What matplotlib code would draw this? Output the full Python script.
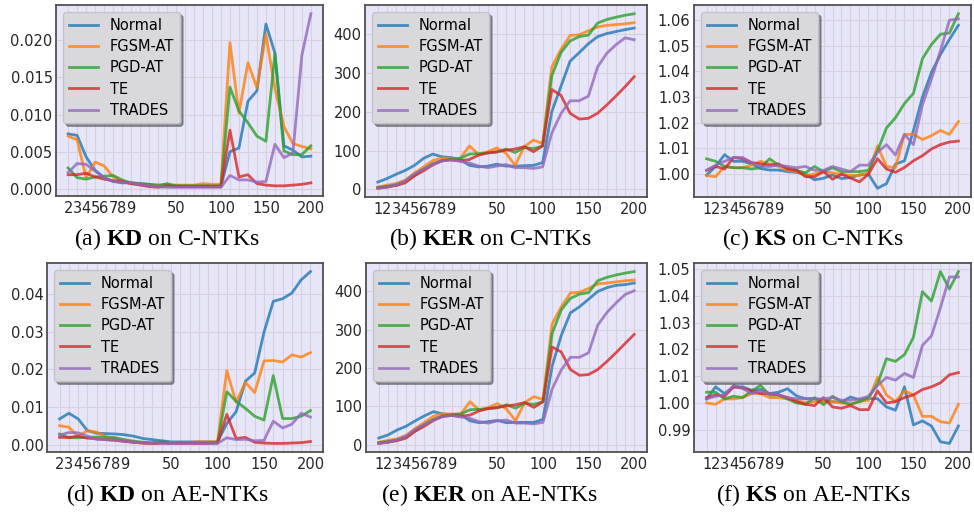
import numpy as np
import matplotlib
matplotlib.use('Agg')
import matplotlib.pyplot as plt
from matplotlib.ticker import MultipleLocator

plt.rcParams['font.family'] = ['DejaVu Sans']
plt.rcParams['mathtext.fontset'] = 'custom'
plt.rcParams['mathtext.rm'] = 'Liberation Serif'
plt.rcParams['mathtext.bf'] = 'Liberation Serif:bold'

# x 軸的 epoch（KD 從 2 開始）
epochs = [1, 2, 3, 4, 5, 6, 7, 8, 9, 10, 20, 30, 40, 50, 60, 70, 80, 90, 100,
          110, 120, 130, 140, 150, 160, 170, 180, 190, 200]
epochs_kd = [2, 3, 4, 5, 6, 7, 8, 9, 10, 20, 30, 40, 50, 60, 70, 80, 90, 100,
             110, 120, 130, 140, 150, 160, 170, 180, 190, 200]
names = ['Normal', 'FGSM-AT', 'PGD-AT', 'TE', 'TRADES']

# (a) KD on C-NTKs
kd_c_normal = [0.0074, 0.0072, 0.0043, 0.0025, 0.0015, 0.0010, 0.0008, 0.0008,
               0.0007, 0.0006, 0.0005, 0.0005, 0.0004, 0.0004, 0.0004, 0.0004, 0.0004, 0.0004,
               0.0050, 0.0055, 0.0118, 0.0132, 0.0222, 0.0183, 0.0058, 0.0052, 0.0043, 0.0044]
kd_c_fgsm = [0.0071, 0.0066, 0.0015, 0.0036, 0.0031, 0.0016, 0.0010, 0.0007,
             0.0006, 0.0005, 0.0005, 0.0005, 0.0005, 0.0005, 0.0005, 0.0007, 0.0006, 0.0006,
             0.0197, 0.0102, 0.0170, 0.0136, 0.0208, 0.0135, 0.0084, 0.0061, 0.0057, 0.0054]
kd_c_pgd = [0.0028, 0.0015, 0.0013, 0.0016, 0.0017, 0.0018, 0.0012, 0.0008,
            0.0007, 0.0006, 0.0004, 0.0007, 0.0004, 0.0004, 0.0004, 0.0004, 0.0004, 0.0004,
            0.0137, 0.0105, 0.0089, 0.0071, 0.0064, 0.0182, 0.0051, 0.0046, 0.0046, 0.0058]
kd_c_te = [0.0019, 0.0019, 0.0021, 0.0016, 0.0013, 0.0011, 0.0010, 0.0007,
           0.0005, 0.0003, 0.0002, 0.0004, 0.0003, 0.0003, 0.0003, 0.0003, 0.0003, 0.0003,
           0.0079, 0.0016, 0.0019, 0.0007, 0.0005, 0.0004, 0.0004, 0.0005, 0.0006, 0.0008]
kd_c_trades = [0.0022, 0.0034, 0.0033, 0.0024, 0.0015, 0.0010, 0.0009, 0.0008,
               0.0006, 0.0004, 0.0003, 0.0002, 0.0002, 0.0002, 0.0002, 0.0002, 0.0002, 0.0002,
               0.0018, 0.0012, 0.0012, 0.0009, 0.0010, 0.0060, 0.0042, 0.0048, 0.0180, 0.0236]

# (b) KER on C-NTKs
ker_c_normal = [19, 28, 39, 49, 62, 80, 91, 84, 82,
                77, 62, 58, 60, 65, 60, 60, 61, 62, 69,
                200, 265, 330, 352, 375, 393, 401, 406, 411, 415]
ker_c_fgsm = [6, 11, 15, 24, 42, 58, 74, 81, 80,
              80, 112, 90, 97, 107, 93, 62, 110, 127, 118,
              315, 360, 396, 398, 408, 418, 422, 424, 426, 429]
ker_c_pgd = [5, 8, 12, 20, 36, 52, 66, 74, 78,
             80, 91, 92, 94, 96, 104, 95, 108, 105, 112,
             292, 352, 382, 393, 397, 428, 437, 443, 448, 452]
ker_c_te = [3, 6, 10, 17, 35, 48, 63, 74, 76,
            74, 77, 88, 94, 97, 101, 104, 110, 97, 112,
            257, 242, 196, 181, 183, 196, 217, 240, 264, 290]
ker_c_trades = [3, 6, 12, 22, 40, 52, 64, 73, 76,
                72, 68, 60, 56, 60, 64, 56, 56, 54, 58,
                145, 195, 228, 228, 240, 315, 350, 372, 390, 385]

# (c) KS on C-NTKs
ks_c_normal = [0.9996, 1.003, 1.0076, 1.005, 1.005, 1.004, 1.0022, 1.0016, 1.0016,
               1.001, 1.0007, 1.0, 0.9978, 0.9984, 0.9997, 0.9983, 0.9987, 0.9997, 1.0,
               0.9945, 0.9963, 1.0039, 1.0052, 1.017, 1.030, 1.0396, 1.0466, 1.0525, 1.058]
ks_c_fgsm = [0.9995, 0.999, 1.003, 1.0025, 1.0025, 1.0035, 1.005, 1.004, 1.003,
             1.0015, 1.001, 0.9995, 1.0, 1.001, 1.0005, 1.0, 0.9995, 0.9995, 1.0005,
             1.011, 1.003, 1.0025, 1.0155, 1.0155, 1.0135, 1.015, 1.017, 1.0155, 1.0205]
ks_c_pgd = [1.006, 1.005, 1.003, 1.0025, 1.0025, 1.002, 1.0025, 1.006, 1.0035,
            1.0025, 1.0015, 1.0005, 1.003, 1.001, 1.0025, 1.001, 1.001, 1.001, 1.0015,
            1.009, 1.018, 1.022, 1.0275, 1.0315, 1.045, 1.0505, 1.0545, 1.055, 1.0625]
ks_c_te = [1.0015, 1.003, 1.002, 1.0065, 1.006, 1.0045, 1.004, 1.0035, 1.004,
           1.002, 1.0015, 0.999, 0.999, 1.001, 0.998, 1.0, 0.9985, 0.997, 1.0,
           1.006, 1.002, 1.0007, 1.0026, 1.0052, 1.0072, 1.0098, 1.0115, 1.0125, 1.0129]
ks_c_trades = [1.0015, 1.0035, 1.005, 1.0065, 1.0065, 1.0045, 1.003, 1.003, 1.0035,
               1.003, 1.0025, 1.003, 1.0015, 1.0015, 1.003, 1.002, 1.001, 1.0035, 1.0035,
               1.0085, 1.0115, 1.0075, 1.0155, 1.0115, 1.027, 1.037, 1.048, 1.060, 1.0605]

# (d) KD on AE-NTKs
kd_ae_normal = [0.0068, 0.0083, 0.0068, 0.0037, 0.0030, 0.0029, 0.0028, 0.0026,
                0.0022, 0.0016, 0.0013, 0.0010, 0.0007, 0.0007, 0.0007, 0.0007, 0.0007, 0.0007,
                0.0056, 0.0087, 0.0168, 0.0190, 0.0298, 0.0380, 0.0387, 0.0402, 0.0437, 0.0459]
kd_ae_fgsm = [0.0050, 0.0046, 0.0022, 0.0037, 0.0033, 0.0020, 0.0016, 0.0010,
              0.0006, 0.0004, 0.0003, 0.0005, 0.0005, 0.0005, 0.0005, 0.0008, 0.0007, 0.0007,
              0.0196, 0.0112, 0.0165, 0.0138, 0.0222, 0.0223, 0.0219, 0.0238, 0.0232, 0.0244]
kd_ae_pgd = [0.0028, 0.0018, 0.0018, 0.0019, 0.0020, 0.0020, 0.0018, 0.0013,
             0.0009, 0.0006, 0.0005, 0.0008, 0.0005, 0.0005, 0.0005, 0.0005, 0.0005, 0.0005,
             0.0140, 0.0115, 0.0096, 0.0075, 0.0065, 0.0183, 0.0069, 0.0069, 0.0075, 0.0090]
kd_ae_te = [0.0019, 0.0019, 0.0022, 0.0017, 0.0015, 0.0013, 0.0011, 0.0008,
            0.0006, 0.0004, 0.0003, 0.0004, 0.0003, 0.0003, 0.0003, 0.0003, 0.0003, 0.0004,
            0.0080, 0.0016, 0.0019, 0.0006, 0.0004, 0.0003, 0.0003, 0.0004, 0.0005, 0.0008]
kd_ae_trades = [0.0025, 0.0032, 0.0031, 0.0022, 0.0014, 0.0013, 0.0012, 0.0009,
                0.0006, 0.0004, 0.0003, 0.0003, 0.0003, 0.0003, 0.0003, 0.0003, 0.0003, 0.0003,
                0.0018, 0.0013, 0.0014, 0.0010, 0.0011, 0.0062, 0.0044, 0.0054, 0.0083, 0.0073]

# (e) KER on AE-NTKs
ker_ae_normal = [17, 25, 38, 48, 62, 75, 86, 80, 78,
                 78, 62, 57, 60, 63, 57, 58, 58, 58, 66,
                 205, 285, 344, 360, 380, 400, 410, 416, 418, 422]
ker_ae_fgsm = [6, 11, 15, 24, 42, 58, 74, 80, 80,
               80, 112, 90, 97, 107, 93, 62, 110, 125, 118,
               315, 360, 396, 398, 408, 420, 422, 425, 428, 430]
ker_ae_pgd = [5, 8, 12, 20, 36, 52, 66, 74, 78,
              80, 91, 92, 94, 96, 104, 95, 108, 105, 112,
              290, 352, 382, 393, 397, 428, 437, 443, 448, 452]
ker_ae_te = [3, 6, 10, 17, 35, 48, 63, 74, 76,
             74, 77, 88, 94, 97, 101, 104, 110, 97, 112,
             255, 242, 196, 181, 183, 196, 217, 240, 264, 288]
ker_ae_trades = [3, 6, 12, 22, 40, 52, 64, 73, 76,
                 72, 68, 60, 56, 62, 64, 56, 56, 54, 58,
                 145, 195, 228, 228, 240, 312, 345, 370, 392, 402]

# (f) KS on AE-NTKs
ks_ae_normal = [1.0015, 1.006, 1.0035, 1.006, 1.006, 1.0047, 1.005, 1.0035, 1.004,
                1.0053, 1.0026, 1.0016, 1.0016, 1.001, 1.0004, 1.0004, 1.0022, 1.0012, 1.0016,
                1.0016, 0.9985, 0.9973, 1.006, 0.9918, 0.9933, 0.9914, 0.9855, 0.9849, 0.9914]
ks_ae_fgsm = [1.0, 0.9995, 1.0015, 1.0015, 1.002, 1.0035, 1.0035, 1.002, 1.002,
              1.0015, 1.001, 1.0, 1.0005, 1.0005, 1.0005, 1.0, 0.9995, 1.0005, 1.001,
              1.0095, 1.003, 1.0005, 1.0045, 1.003, 0.995, 0.995, 0.993, 0.9925, 0.9995]
ks_ae_pgd = [1.004, 1.004, 1.0015, 1.0025, 1.002, 1.0045, 1.0065, 1.003, 1.003,
             1.0015, 1.0, 0.9995, 1.002, 0.9993, 1.0025, 1.0005, 0.9995, 1.0005, 1.002,
             1.007, 1.0165, 1.0155, 1.018, 1.0245, 1.0415, 1.038, 1.049, 1.0425, 1.049]
ks_ae_te = [1.002, 1.003, 1.0025, 1.006, 1.0055, 1.0045, 1.0035, 1.0035, 1.003,
            1.002, 1.0005, 0.9995, 0.999, 1.002, 0.9985, 0.998, 0.999, 0.9975, 0.9975,
            1.0045, 1.0, 1.0005, 1.002, 1.003, 1.005, 1.006, 1.0075, 1.0105, 1.0113]
ks_ae_trades = [1.0015, 1.0025, 1.003, 1.0065, 1.0055, 1.0035, 1.0045, 1.0035, 1.003,
                1.002, 1.0015, 1.0015, 1.0015, 1.0015, 1.002, 1.001, 1.001, 1.0015, 1.0025,
                1.0065, 1.0095, 1.0085, 1.011, 1.0095, 1.0215, 1.025, 1.0355, 1.047, 1.047]

W, H = 974, 516
fig = plt.figure(figsize=(W / 100, H / 100), dpi=100)


def add_panel(left, top, right, bottom, xs, series, ystep=None):
    ax = fig.add_axes([left / W, 1 - bottom / H, (right - left) / W, (bottom - top) / H])
    ax.set_facecolor('#E6E6F8')
    pos = np.arange(len(xs))
    for name, ys in zip(names, series):
        ax.plot(pos, ys, lw=2, alpha=0.8, label=name)
    ax.set_xticks(pos)
    ax.set_xticklabels([str(e) if e < 10 or e % 50 == 0 else '' for e in xs])
    if ystep:
        ax.yaxis.set_major_locator(MultipleLocator(ystep))
    ax.grid(True, color='#D6D1DD', lw=0.8)
    ax.set_axisbelow(True)
    ax.tick_params(length=0, labelsize=10.5, labelcolor='#262626')
    ax.tick_params(axis='y', pad=2.5)
    ax.tick_params(axis='x', pad=3.5)
    for s in ax.spines.values():
        s.set_color('#505050')
        s.set_linewidth(1.3)
    ax.legend(loc='upper left', fontsize=10.5, shadow=True, facecolor='#D9D9DD',
              edgecolor='#C4C4C8', framealpha=1, labelspacing=0.42)
    return ax


add_panel(56, 5, 323, 196, epochs_kd, [kd_c_normal, kd_c_fgsm, kd_c_pgd, kd_c_te, kd_c_trades])
add_panel(365, 5, 647, 197, epochs, [ker_c_normal, ker_c_fgsm, ker_c_pgd, ker_c_te, ker_c_trades])
add_panel(694, 5, 971, 197, epochs, [ks_c_normal, ks_c_fgsm, ks_c_pgd, ks_c_te, ks_c_trades], 0.01)
add_panel(47, 263, 323, 452, epochs_kd, [kd_ae_normal, kd_ae_fgsm, kd_ae_pgd, kd_ae_te, kd_ae_trades])
add_panel(366, 263, 647, 452, epochs, [ker_ae_normal, ker_ae_fgsm, ker_ae_pgd, ker_ae_te, ker_ae_trades])
add_panel(694, 263, 971, 452, epochs, [ks_ae_normal, ks_ae_fgsm, ks_ae_pgd, ks_ae_te, ks_ae_trades], 0.01)

captions = [r'(a) $\mathbf{KD}$ on C-NTKs', r'(b) $\mathbf{KER}$ on C-NTKs', r'(c) $\mathbf{KS}$ on C-NTKs',
            r'(d) $\mathbf{KD}$ on AE-NTKs', r'(e) $\mathbf{KER}$ on AE-NTKs', r'(f) $\mathbf{KS}$ on AE-NTKs']
cx = [167, 490, 813]
cy = [245, 501]
for i, cap in enumerate(captions):
    fig.text(cx[i % 3] / W, 1 - cy[i // 3] / H, cap, ha='center', va='baseline',
             fontsize=17, family='Liberation Serif')

fig.savefig('out.png', dpi=100)
